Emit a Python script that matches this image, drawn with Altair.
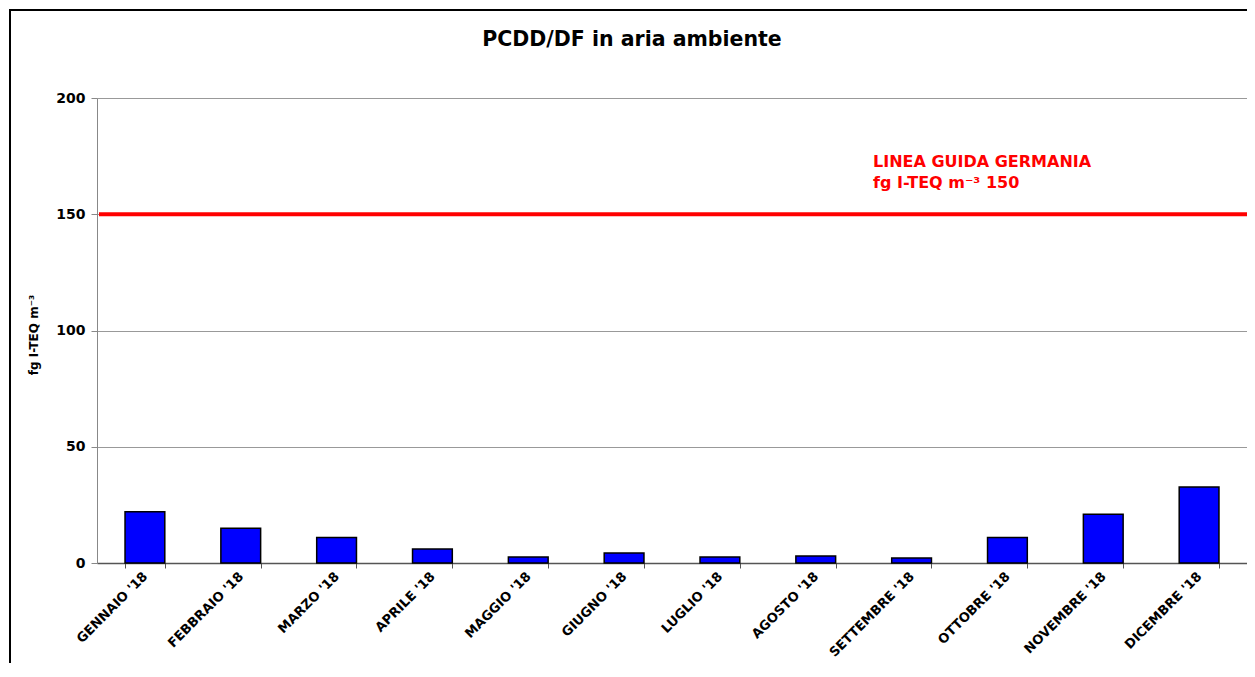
import altair as alt
import pandas as pd

months = ["GENNAIO '18", "FEBBRAIO '18", "MARZO '18", "APRILE '18", "MAGGIO '18",
          "GIUGNO '18", "LUGLIO '18", "AGOSTO '18", "SETTEMBRE '18", "OTTOBRE '18",
          "NOVEMBRE '18", "DICEMBRE '18"]
values = [22, 15, 11, 6, 2.6, 4.3, 2.6, 3, 2.2, 11, 21, 32.7]
guide_value = [150]
guide_text = ["LINEA GUIDA GERMANIA\nfg I-TEQ m\u207b\u00b3 150"]
y_ticks = [0, 50, 100, 150, 200]

W, H = 1150, 465
FONT = "DejaVu Sans"

df = pd.DataFrame({"mese": months, "valore": values})
gdf = pd.DataFrame({"v": guide_value})
tdf = pd.DataFrame({"t": guide_text})

x_enc = alt.X("mese:N", sort=months, title=None,
              scale=alt.Scale(paddingInner=0.585, paddingOuter=0.2925),
              axis=alt.Axis(labelAngle=-45, labelAlign="right", labelBaseline="middle",
                            labelFont=FONT, labelFontSize=13, labelFontWeight="bold",
                            labelColor="black", labelPadding=6, tickBand="extent",
                            tickSize=5, tickColor="#555", domainColor="#555",
                            domainWidth=1.5, grid=False, labelOverlap=False))
y_scale = alt.Scale(domain=[0, 200], nice=False)

bars = alt.Chart(df).mark_bar(color="#0000FF", stroke="black", strokeWidth=1.5).encode(
    x=x_enc,
    y=alt.Y("valore:Q", scale=y_scale, title="fg I-TEQ m\u207b\u00b3",
            axis=alt.Axis(values=y_ticks, labelFont=FONT, labelFontSize=14,
                          labelFontWeight="bold", labelColor="black", labelPadding=6,
                          tickSize=6, tickColor="#888", domainColor="#888",
                          gridColor="#999", gridWidth=1,
                          titleFont=FONT, titleFontSize=12, titleFontWeight="bold",
                          titleColor="black", titleX=-57, titleY=H / 2 + 4)),
)

guide = alt.Chart(gdf).mark_rule(color="#FF0000", strokeWidth=4, clip=False).encode(
    y=alt.Y("v:Q", scale=y_scale),
    x=alt.value(2),
    x2=alt.value(W + 20),
)

label = alt.Chart(tdf).mark_text(color="#FF0000", font=FONT, fontSize=16, fontWeight="bold",
                                 align="left", baseline="alphabetic", lineBreak="\n",
                                 lineHeight=21).encode(
    text="t:N",
    x=alt.value(776),
    y=alt.value(69),
)

bdf = pd.DataFrame({"k": [0]})
border_left = alt.Chart(bdf).mark_rule(color="black", strokeWidth=2).encode(
    x=alt.value(-87), y=alt.value(-89), y2=alt.value(H + 140))
border_top = alt.Chart(bdf).mark_rule(color="black", strokeWidth=2).encode(
    x=alt.value(-88), x2=alt.value(W + 20), y=alt.value(-88))

chart = alt.layer(bars, guide, label, border_left, border_top).properties(
    width=W, height=H,
    autosize=alt.AutoSizeParams(type="none"),
    padding={"left": 89, "top": 90, "right": 0, "bottom": 100},
    title=alt.TitleParams("PCDD/DF in aria ambiente", font=FONT, fontSize=20.5,
                          fontWeight="bold", color="black", anchor="middle",
                          baseline="alphabetic", frame="group", dx=-40, offset=-58),
).configure_view(stroke="#999", strokeWidth=1.5).configure(background="white")

chart.save("out.html", embed_options={"renderer": "svg", "actions": False})
